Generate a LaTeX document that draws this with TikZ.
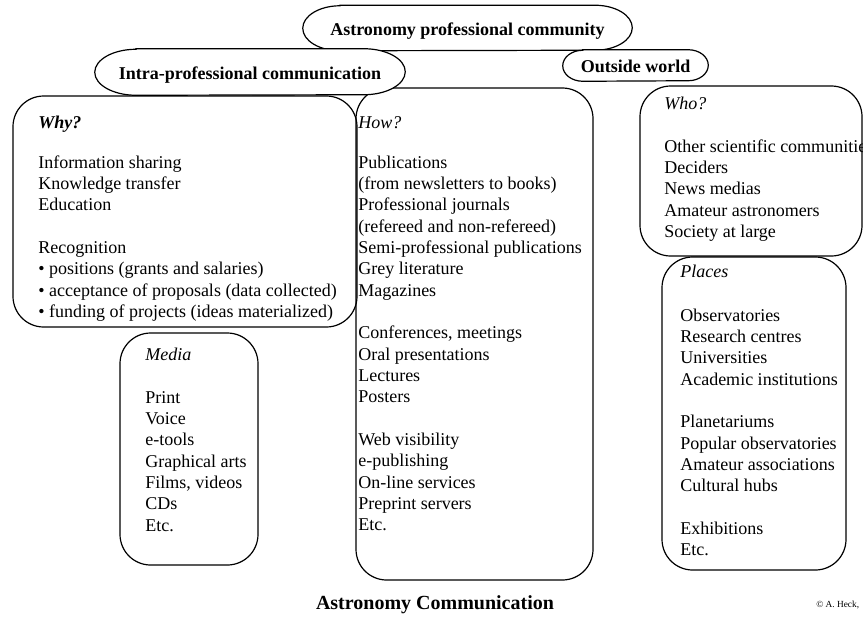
\documentclass[tikz,border=0pt]{standalone}
\usepackage{fontspec}
\setmainfont{Liberation Serif}
\usepackage{tikz}
\usetikzlibrary{positioning}

% outline of a bubble with elliptic ends, laid round a named node
\newcommand{\bubbleedge}[3]{%
    \draw[line width=0.9pt, fill=white]
        ([xshift=#2]#1.north west) -- ([xshift=-#2]#1.north east)
        arc[start angle=90, end angle=-90, x radius=#2, y radius=#3]
        -- ([xshift=#2]#1.south west)
        arc[start angle=270, end angle=90, x radius=#2, y radius=#3] -- cycle;}

\begin{document}
\begin{tikzpicture}[
    x=0.75pt, y=-0.75pt,
    every node/.style={font=\fontsize{13.5pt}{16pt}\selectfont},
    panel/.style={draw, line width=0.9pt, rounded corners=23pt, inner sep=0pt},
    bubble/.style={inner sep=0pt},
    bubbletext/.style={inner sep=0pt, font=\fontsize{13.5pt}{16pt}\selectfont\bfseries},
    head/.style={anchor=base west, inner sep=0pt, font=\fontsize{13.5pt}{16pt}\selectfont\itshape},
    list/.style={anchor=north west, inner sep=0pt, align=left}
]
    \useasboundingbox (0,0) rectangle (863,643);
    \clip (0,0) rectangle (863,643);

    % --- PANELS ---
    \node[panel, minimum width=258pt, minimum height=173.25pt] (why) at (185,211.5) {};
    \node[panel, minimum width=177.75pt, minimum height=369pt] (how) at (474.5,334) {};
    \node[panel, minimum width=166.5pt, minimum height=127.5pt] (who) at (751,171) {};
    \node[panel, minimum width=138pt, minimum height=234.75pt] (places) at (754,413.5) {};
    \node[panel, minimum width=103.5pt, minimum height=174pt] (media) at (189,449) {};

    % --- BUBBLES ---
    \node[bubble, minimum width=246.75pt, minimum height=33.75pt] (community) at (467.5,28) {};
    \bubbleedge{community}{28pt}{16.875pt}
    \node[bubbletext] (communitytext) at ([yshift=-2pt]community) {Astronomy professional community};

    \node[bubble, minimum width=232.5pt, minimum height=34.5pt] (intra) at (250,72) {};
    \bubbleedge{intra}{31pt}{17.25pt}
    \node[bubbletext] (intratext) at ([yshift=-2pt]intra) {Intra-professional communication};

    \node[bubble, minimum width=108.75pt, minimum height=23.25pt] (outside) at (635.5,65.5) {};
    \bubbleedge{outside}{15pt}{11.625pt}
    \node[bubbletext] (outsidetext) at ([yshift=-0.5pt]outside) {Outside world};

    % --- WHY ---
    \node[head, font=\fontsize{13.5pt}{16pt}\selectfont\bfseries\itshape] (whyhead) at (38,128) {Why?};
    \node[list] (whylist) at (38,153) {\strut Information sharing\\
        Knowledge transfer\\
        Education\\[16pt]
        Recognition\\
        \textbullet{} positions (grants and salaries)\\
        \textbullet{} acceptance of proposals (data collected)\\
        \textbullet{} funding of projects (ideas materialized)};

    % --- HOW ---
    \node[head] (howhead) at (358,128) {How?};
    \node[list] (howlist) at (358,153) {\strut Publications\\
        (from newsletters to books)\\
        Professional journals\\
        (refereed and non-refereed)\\
        Semi-professional publications\\
        Grey literature\\
        Magazines\\[16pt]
        Conferences, meetings\\
        Oral presentations\\
        Lectures\\
        Posters\\[16pt]
        Web visibility\\
        e-publishing\\
        On-line services\\
        Preprint servers\\
        Etc.};

    % --- WHO ---
    \node[head] (whohead) at (664,109) {Who?};
    \node[list] (wholist) at (664,137) {\strut Other scientific communities\\
        Deciders\\
        News medias\\
        Amateur astronomers\\
        Society at large};

    % --- PLACES ---
    \node[head] (placeshead) at (680,277) {Places};
    \node[list] (placeslist) at (680,306) {\strut Observatories\\
        Research centres\\
        Universities\\
        Academic institutions\\[16pt]
        Planetariums\\
        Popular observatories\\
        Amateur associations\\
        Cultural hubs\\[16pt]
        Exhibitions\\
        Etc.};

    % --- MEDIA ---
    \node[head] (mediahead) at (145,360) {Media};
    \node[list] (medialist) at (145,388) {\strut Print\\
        Voice\\
        e-tools\\
        Graphical arts\\
        Films, videos\\
        CDs\\
        Etc.};

    % --- FOOTER ---
    \node[font=\fontsize{15pt}{18pt}\selectfont\bfseries] (title) at (435,605) {Astronomy Communication};
    \node[anchor=west, inner sep=0pt, font=\fontsize{7pt}{8pt}\selectfont] (credit) at (816,605) {© A. Heck,};

\end{tikzpicture}
\end{document}
